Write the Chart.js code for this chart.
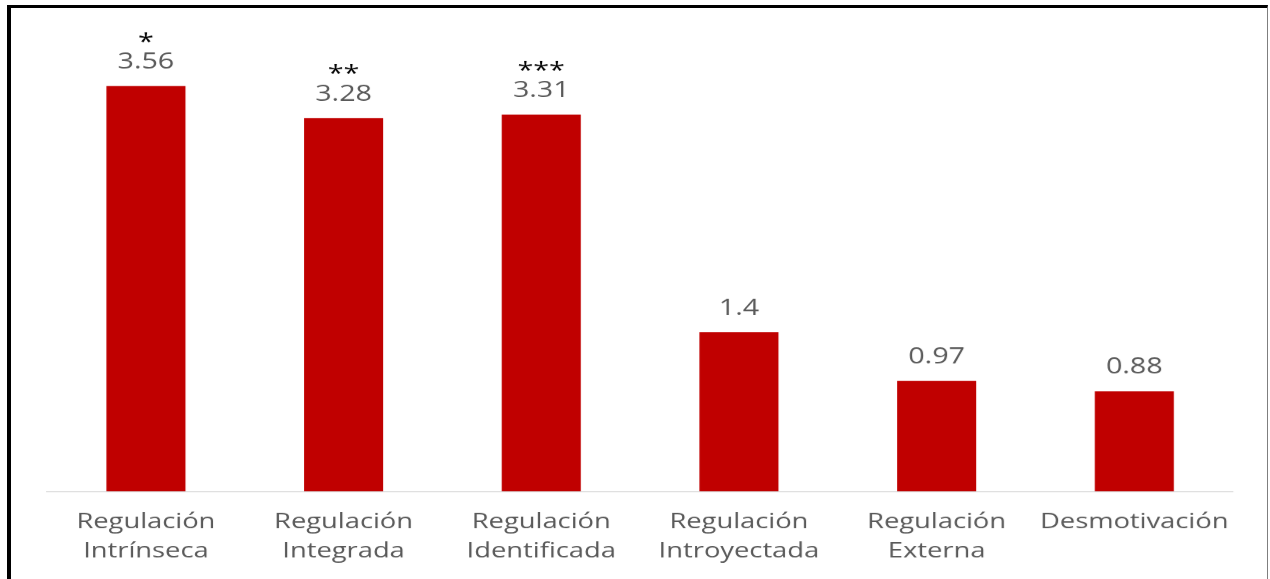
<!DOCTYPE html>
<html lang="es">
<head>
<meta charset="utf-8">
<title>Tipos de regulación motivacional</title>
<script src="https://cdn.jsdelivr.net/npm/chart.js@4.4.1/dist/chart.umd.min.js"></script>
<style>
  html, body { margin: 0; padding: 0; background: #ffffff; overflow: hidden; }
  body { width: 1270px; height: 579px; position: relative; }
  /* chart drawn narrow, then widened horizontally */
  #wrap {
    position: absolute; left: 0; top: 0;
    width: 977px; height: 579px;
    transform: scaleX(1.3); transform-origin: 0 0;
  }
  #chart { display: block; }
  #frame {
    position: absolute; left: 7px; top: 5px;
    width: 1256px; height: 620px;
    border-left: 4px solid #000;
    border-top: 3px solid #000;
    border-right: 1px solid #7f7f7f;
    pointer-events: none;
  }
</style>
</head>
<body>
<div id="wrap"><canvas id="chart" width="977" height="579"></canvas></div>
<div id="frame"></div>
<script>
// Categories (two-line labels), mean scores and significance marks
const categories = [
  ['Regulación', 'Intrínseca'],
  ['Regulación', 'Integrada'],
  ['Regulación', 'Identificada'],
  ['Regulación', 'Introyectada'],
  ['Regulación', 'Externa'],
  ['Desmotivación']
];
const scores = [3.56, 3.28, 3.31, 1.4, 0.97, 0.88];
const significance = ['*', '**', '***', '', '', ''];

const FONT = '"Open Sans", "DejaVu Sans", sans-serif';

// Value labels and asterisks above each bar
const barLabels = {
  id: 'barLabels',
  afterDatasetsDraw(chart) {
    const ctx = chart.ctx;
    const meta = chart.getDatasetMeta(0);
    ctx.save();
    ctx.textAlign = 'center';
    ctx.textBaseline = 'alphabetic';
    meta.data.forEach((bar, i) => {
      ctx.font = '22px ' + FONT;
      ctx.fillStyle = '#595959';
      ctx.fillText(String(scores[i]), bar.x, bar.y - 17.5);
      if (significance[i]) {
        ctx.fillStyle = '#000000';
        ctx.fillText(significance[i], bar.x, bar.y - 37);
      }
    });
    ctx.restore();
  }
};

function draw() {
  new Chart(document.getElementById('chart'), {
    type: 'bar',
    data: {
      labels: categories,
      datasets: [{
        data: scores,
        backgroundColor: '#c00000',
        borderWidth: 0,
        barPercentage: 0.4,
        categoryPercentage: 1.0
      }]
    },
    options: {
      responsive: false,
      animation: false,
      devicePixelRatio: 1.3,
      layout: { padding: { left: 36.2, right: 28.5, top: 36, bottom: 0 } },
      plugins: {
        legend: { display: false },
        tooltip: { enabled: false },
        title: { display: false }
      },
      scales: {
        y: {
          display: false,
          min: 0,
          max: 4
        },
        x: {
          grid: { display: false, drawTicks: false },
          border: { display: true, color: '#d9d9d9', width: 1 },
          ticks: {
            color: '#595959',
            padding: 16.5,
            maxRotation: 0,
            autoSkip: false,
            font: { family: FONT, size: 21, lineHeight: 29 / 21 }
          },
          afterFit(scale) { scale.height = 88; }
        }
      }
    },
    plugins: [barLabels]
  });
}

if (document.fonts && document.fonts.load) {
  Promise.all([
    document.fonts.load('22px "Open Sans"'),
    document.fonts.load('21px "Open Sans"')
  ]).then(draw, draw);
} else {
  draw();
}
</script>
</body>
</html>
